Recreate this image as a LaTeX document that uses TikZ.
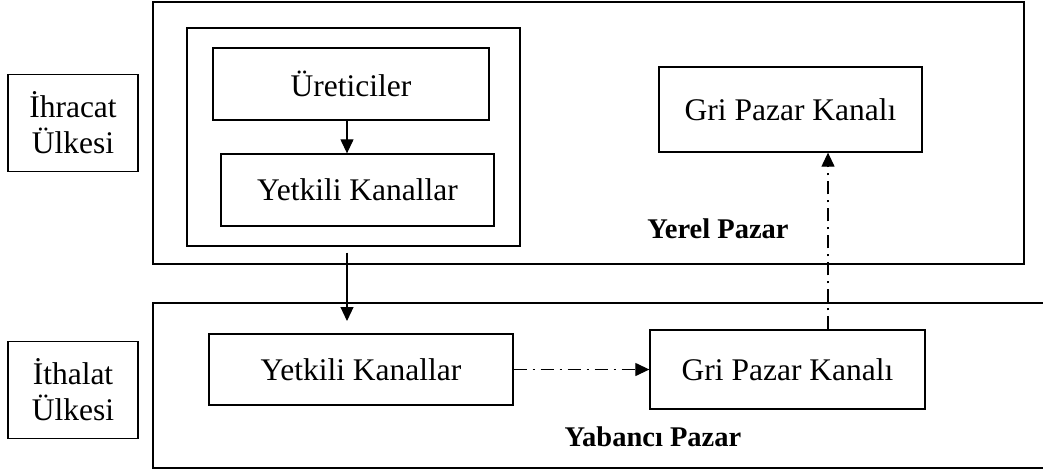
\documentclass[tikz,border=0pt]{standalone}
\usepackage{fontspec}
\setmainfont{Liberation Serif}
\usetikzlibrary{arrows.meta}

\tikzset{
  kutu/.style={draw,line width=1.3pt,inner sep=0pt,align=center,
    font=\fontsize{31.5}{36}\selectfont},
  etiket/.style={font=\fontsize{28.5}{32}\selectfont\bfseries},
  ok/.style={line width=1.2pt,-{Triangle[length=14pt,width=13pt]}},
  noktali/.style={ok,dash pattern=on 13pt off 6pt on 2pt off 6pt},
}

\begin{document}
\begin{tikzpicture}[x=1pt,y=-1pt]
	\useasboundingbox (0,0) rectangle (1043,471);
	% ulkeler
	\node[kutu,minimum width=130,minimum height=97] (ihr) at (73,123) {İhracat\\Ülkesi};
	\node[kutu,minimum width=130,minimum height=97] (ith) at (73,390) {İthalat\\Ülkesi};
	
	% yerel pazar
	\node[draw,line width=1.7pt,minimum width=871,minimum height=262] (yerel) at (588.5,133) {};
	\node[draw,line width=1.3pt,minimum width=333,minimum height=218] (ic) at (353.5,137) {};
	\node[kutu,minimum width=276,minimum height=72] (uret) at (351,84) {Üreticiler};
	\node[kutu,minimum width=273,minimum height=72] (yetk1) at (357.5,190) {Yetkili Kanallar};
	\node[kutu,minimum width=263,minimum height=85] (gri1) at (790.5,109.5) {Gri Pazar Kanalı};
	\node[etiket] (yerelad) at (718,229) {Yerel Pazar};
	
	% yabanci pazar
	\draw[line width=1.7pt] (1043,303) -- (153,303) -- (153,468) -- (1043,468);
	\node[kutu,minimum width=304,minimum height=71] (yetk2) at (361,369.5) {Yetkili Kanallar};
	\node[kutu,minimum width=275,minimum height=79] (gri2) at (787.5,369.5) {Gri Pazar Kanalı};
	\node[etiket] (yabad) at (653,437) {Yabancı Pazar};
	
	% oklar
	\coordinate (dusey) at (347,0);
	\coordinate (inis) at (347,321);
	\coordinate (cikis) at (828,0);
	\draw[ok] (uret.south -| dusey) -- (yetk1.north -| dusey);
	\draw[ok] ([yshift=-6pt]ic.south -| inis) -- (inis);
	\draw[noktali] (yetk2) -- (gri2);
	\draw[noktali] (gri2.north -| cikis) -- (gri1.south -| cikis);
\end{tikzpicture}
\end{document}
